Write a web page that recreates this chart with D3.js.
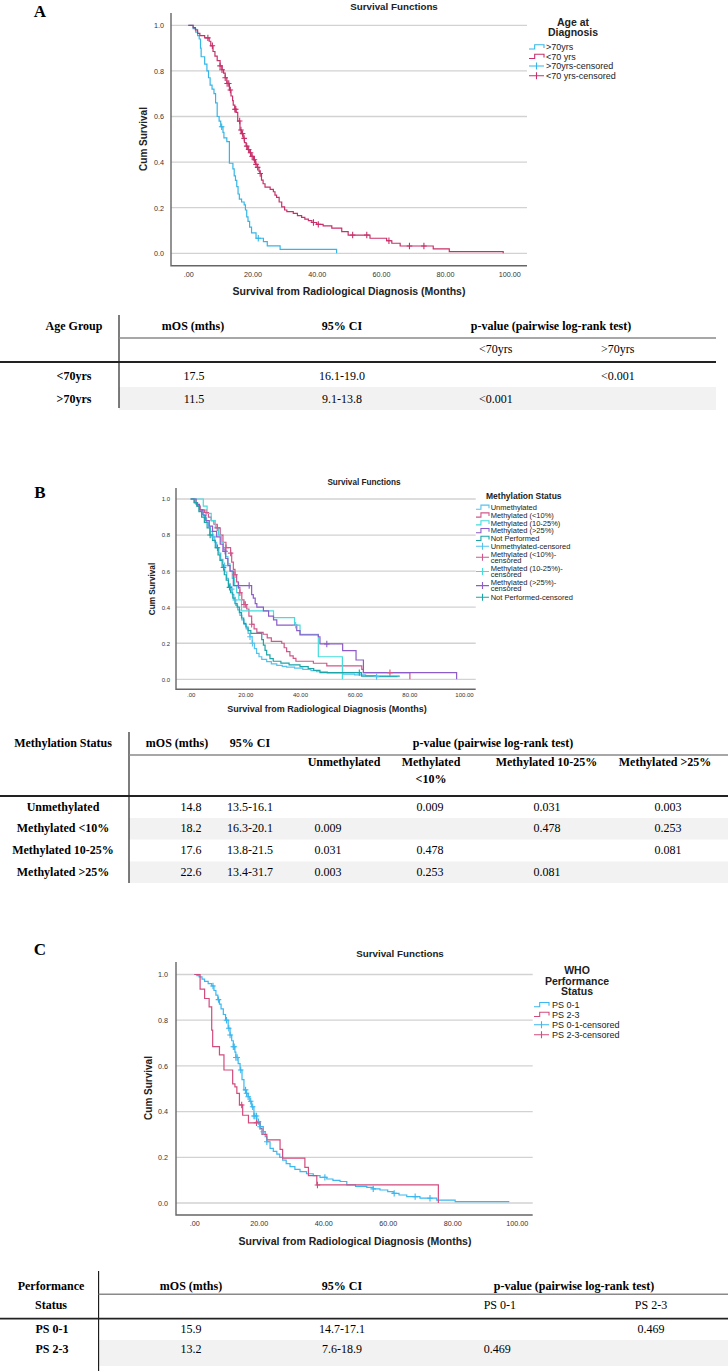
<!DOCTYPE html>
<html><head><meta charset="utf-8">
<script src="https://cdn.jsdelivr.net/npm/d3@7"></script>
<style>body{margin:0;background:#fff}</style>
</head><body><svg id="fig" width="728" height="1371"></svg>
<script>
// ---------------- DATA ----------------
const xTickValues = [0, 20, 40, 60, 80, 100];
const xTickLabels = [".00", "20.00", "40.00", "60.00", "80.00", "100.00"];
const yTickValues = [0, 0.2, 0.4, 0.6, 0.8, 1.0];
const yTickLabels = ["0.0", "0.2", "0.4", "0.6", "0.8", "1.0"];

// Panel A: Age at diagnosis  [months, cumulative survival]
const ageOver70 = [[0,1],[1.5,0.985],[2.3,0.97],[2.9,0.955],[3.4,0.94],[3.8,0.9],[4.0,0.862],[5.1,0.83],[5.8,0.80],[6.3,0.77],[6.8,0.738],[7.4,0.72],[8.0,0.70],[8.5,0.66],[9.0,0.6],[9.6,0.58],[10.1,0.555],[10.8,0.53],[11.1,0.506],[12.0,0.49],[12.8,0.395],[13.9,0.37],[14.3,0.34],[14.7,0.32],[15.1,0.292],[15.5,0.26],[15.9,0.238],[16.6,0.225],[17.4,0.212],[17.8,0.19],[18.2,0.16],[18.6,0.14],[19.1,0.115],[19.7,0.09],[21.1,0.066],[23.4,0.051],[24.6,0.033],[28.6,0.0175],[46.2,0]];
const ageUnder70 = [[0,1],[1.5,0.99],[2.2,0.98],[2.9,0.965],[3.6,0.955],[5.1,0.945],[6.5,0.93],[7.0,0.91],[7.7,0.885],[8.3,0.865],[9.0,0.845],[9.9,0.822],[10.5,0.805],[11.0,0.79],[11.5,0.77],[12.0,0.745],[12.8,0.716],[13.3,0.69],[13.8,0.67],[14.0,0.65],[14.5,0.632],[14.9,0.618],[15.4,0.58],[16.1,0.541],[16.6,0.525],[17.1,0.504],[17.5,0.485],[18.0,0.47],[18.5,0.455],[19.0,0.441],[19.6,0.425],[20.3,0.41],[20.9,0.39],[21.5,0.377],[22.0,0.36],[22.3,0.35],[22.8,0.321],[23.3,0.305],[23.9,0.29],[25.5,0.28],[26.5,0.27],[27.0,0.255],[27.5,0.245],[28.3,0.225],[29.1,0.204],[30.0,0.19],[30.7,0.183],[32.7,0.175],[34.0,0.165],[35.3,0.158],[36.3,0.15],[37.4,0.143],[38.5,0.135],[40.0,0.127],[42.0,0.12],[44.7,0.11],[47.8,0.095],[49.8,0.08],[56.6,0.066],[61.8,0.055],[63.4,0.044],[66.0,0.032],[76.3,0.019],[81.3,0.007],[98.1,0.007],[98.1,0]];
const ageOver70Censored = [10.4, 21.8];
const ageUnder70Censored = [6.1,7.5,9.9,10.5,11.5,12.1,12.6,13.1,14.5,14.8,16.0,16.4,16.9,17.4,18.2,18.8,19.4,19.9,20.6,21.1,21.6,22.4,39.0,40.5,51.2,55.6,62.5,68.9,73.4];
const ageLegendLabels = [">70yrs", "<70 yrs", ">70yrs-censored", "<70 yrs-censored"];

// Panel B: Methylation status
const methUnmethylated = [[0,1],[1.5,0.98],[2.5,0.96],[3.3,0.94],[4.2,0.915],[5.0,0.895],[5.8,0.87],[6.5,0.845],[7.2,0.82],[8.0,0.79],[8.8,0.76],[9.5,0.73],[10.3,0.70],[11.0,0.665],[11.8,0.63],[12.5,0.595],[13.2,0.56],[13.8,0.53],[14.5,0.50],[15.2,0.47],[15.8,0.44],[16.5,0.41],[17.2,0.385],[18.0,0.355],[18.7,0.33],[19.5,0.305],[20.3,0.28],[21.0,0.255],[21.7,0.236],[22.5,0.2],[23.3,0.17],[24.1,0.144],[25.0,0.125],[26.0,0.11],[27.8,0.098],[29.5,0.085],[31.5,0.077],[33.5,0.072],[35.1,0.068],[38,0.062],[41,0.055],[44,0.048],[46.1,0.042],[50,0.036],[55.7,0.029],[60,0.024],[64,0.02],[68,0.015],[75.6,0.015]];
const methUnder10 = [[0,1],[1.5,0.98],[2.5,0.96],[3.5,0.94],[5.0,0.925],[6.5,0.90],[7.5,0.88],[8.5,0.86],[9.7,0.84],[10.8,0.80],[11.8,0.76],[12.9,0.73],[14.6,0.70],[15.0,0.65],[15.6,0.61],[16.2,0.58],[16.8,0.54],[17.4,0.51],[18.0,0.48],[18.7,0.44],[19.5,0.415],[20.5,0.39],[21.3,0.35],[22.3,0.305],[23.2,0.28],[24.2,0.26],[26.5,0.25],[28.0,0.23],[29.5,0.21],[33.3,0.20],[34.2,0.175],[35.1,0.153],[36.3,0.13],[37.5,0.116],[38.5,0.10],[44.9,0.089],[49.8,0.074],[62.6,0.055],[63.2,0.037],[80.2,0.037],[80.2,0]];
const meth10to25 = [[0,1],[4.6,0.96],[6.0,0.92],[7.5,0.88],[9.0,0.84],[10.2,0.80],[11.2,0.76],[12.0,0.72],[12.8,0.68],[13.6,0.64],[14.4,0.60],[15.2,0.56],[16.0,0.52],[16.8,0.48],[17.6,0.44],[18.6,0.38],[30.3,0.342],[38.0,0.30],[40.0,0.25],[46.7,0.125],[55.5,0]];
const methOver25 = [[0,1],[2.0,0.97],[3.2,0.94],[4.5,0.91],[5.5,0.88],[6.8,0.85],[8.0,0.82],[9.5,0.79],[10.8,0.75],[11.8,0.71],[12.8,0.67],[13.6,0.63],[14.4,0.60],[15.6,0.52],[22.3,0.47],[22.9,0.45],[23.6,0.42],[24.2,0.40],[26.6,0.38],[28.5,0.35],[30.3,0.33],[31.5,0.30],[38.8,0.27],[40.0,0.246],[46.7,0.236],[47.3,0.196],[55.6,0.159],[60.5,0.107],[63.2,0.037],[97.3,0.037],[97.3,0]];
const methNotPerformed = [[0,1],[1.2,0.98],[2.2,0.96],[3.0,0.93],[4.0,0.90],[5.0,0.87],[6.0,0.84],[7.0,0.80],[8.0,0.77],[9.0,0.73],[10.0,0.69],[10.7,0.66],[11.5,0.62],[12.3,0.58],[13.0,0.55],[13.8,0.51],[14.6,0.48],[15.4,0.45],[16.2,0.42],[17.0,0.40],[17.8,0.37],[18.6,0.34],[19.4,0.31],[20.2,0.29],[21.0,0.27],[22.0,0.255],[26.0,0.22],[26.6,0.19],[27.2,0.16],[27.8,0.135],[29.0,0.115],[30.2,0.1],[33.0,0.09],[36.0,0.08],[40.0,0.07],[43.0,0.06],[45.0,0.05],[47.3,0.037],[62.5,0.018],[76.5,0.018]];
const methUnmethylatedCensored = [8.2,12.4,15.0,16.3,21.7,22.6,68.0];
const methUnder10Censored = [5.6,9.7,12.9,14.6,16.2,18.0,19.5,20.0,22.3,72.9];
const meth10to25Censored = [38.4];
const methOver25Censored = [12.6,17.5,21.4,49.8];
const methNotPerformedCensored = [7.1,9.8,12.0,14.2,61.7];
const methLegendLabels = [["Unmethylated"],["Methylated (<10%)"],["Methylated (10-25%)"],["Methylated (>25%)"],["Not Performed"],["Unmethylated-censored"],["Methylated (<10%)-","censored"],["Methylated (10-25%)-","censored"],["Methylated (>25%)-","censored"],["Not Performed-censored"]];

// Panel C: WHO performance status
const psGood = [[0,1],[0.8,0.995],[1.5,0.99],[2.4,0.98],[3.2,0.97],[4.3,0.96],[5.4,0.95],[6.1,0.93],[6.7,0.91],[7.3,0.89],[7.8,0.87],[8.3,0.85],[9.0,0.825],[9.7,0.80],[10.5,0.765],[11.1,0.735],[11.6,0.71],[12.1,0.684],[12.6,0.66],[12.9,0.637],[13.6,0.61],[14.2,0.582],[14.8,0.54],[15.4,0.495],[16.0,0.48],[16.7,0.465],[17.2,0.445],[17.8,0.421],[18.5,0.381],[19.4,0.356],[20.4,0.334],[21.4,0.312],[22.0,0.29],[22.5,0.268],[23.5,0.239],[24.5,0.226],[25.6,0.214],[26.5,0.2],[27.4,0.188],[28.5,0.172],[29.7,0.159],[31.2,0.147],[32.8,0.137],[34.8,0.128],[36.9,0.12],[39,0.112],[41.1,0.105],[43,0.099],[45.2,0.094],[47.3,0.079],[50,0.073],[53.5,0.068],[55.5,0.062],[57.6,0.057],[60,0.05],[61.7,0.042],[63.5,0.035],[65.9,0.028],[70,0.021],[75.2,0.013],[80.9,0.006],[97.7,0.006]];
const psPoor = [[0,1],[1.8,0.936],[3.2,0.895],[4.6,0.858],[5.4,0.757],[5.7,0.684],[7.8,0.648],[9.2,0.582],[11.9,0.521],[12.6,0.508],[13.2,0.48],[14.0,0.429],[15.0,0.384],[16.8,0.351],[20.4,0.326],[21.0,0.30],[22.5,0.276],[26.6,0.235],[27.4,0.196],[34.3,0.156],[35.4,0.12],[38.0,0.079],[75.7,0.079],[75.7,0]];
const psGoodCensored = [5.8,7.5,10.0,10.7,11.1,12.1,12.4,12.9,13.3,14.4,15.9,16.2,16.7,17.5,18.1,18.5,18.8,19.3,19.9,20.4,21.4,22.5,40.5,55.5,62.0,68.5,73.1];
const psPoorCensored = [14.7,19.3,38.2];
const psLegendLabels = ["PS 0-1", "PS 2-3", "PS 0-1-censored", "PS 2-3-censored"];

// Tables
const tableAHeader = ["Age Group", "mOS (mths)", "95% CI", "p-value (pairwise log-rank test)"];
const tableASubHeader = ["<70yrs", ">70yrs"];
const tableAGroups = ["<70yrs", ">70yrs"];
const tableAmOS = ["17.5", "11.5"];
const tableACI = ["16.1-19.0", "9.1-13.8"];
const tableAP = [["", "<0.001"], ["<0.001", ""]];

const tableBHeader = ["Methylation Status", "mOS (mths)", "95% CI", "p-value (pairwise log-rank test)"];
const tableBSubHeader = [["Unmethylated"], ["Methylated", "<10%"], ["Methylated 10-25%"], ["Methylated >25%"]];
const tableBGroups = ["Unmethylated", "Methylated <10%", "Methylated 10-25%", "Methylated >25%"];
const tableBmOS = ["14.8", "18.2", "17.6", "22.6"];
const tableBCI = ["13.5-16.1", "16.3-20.1", "13.8-21.5", "13.4-31.7"];
const tableBP = [["", "0.009", "0.031", "0.003"], ["0.009", "", "0.478", "0.253"], ["0.031", "0.478", "", "0.081"], ["0.003", "0.253", "0.081", ""]];

const tableCHeader = [["Performance", "Status"], "mOS (mths)", "95% CI", "p-value (pairwise log-rank test)"];
const tableCSubHeader = ["PS 0-1", "PS 2-3"];
const tableCGroups = ["PS 0-1", "PS 2-3"];
const tableCmOS = ["15.9", "13.2"];
const tableCCI = ["14.7-17.1", "7.6-18.9"];
const tableCP = [["", "0.469"], ["0.469", ""]];

// ---------------- DRAW ----------------
const SANS = "'Liberation Sans', Arial, sans-serif";
const SERIF = "'Liberation Serif', 'Times New Roman', serif";
const svg = d3.select("#fig");
svg.append("rect").attr("width", 728).attr("height", 1371).attr("fill", "#fff");

function txt(g, x, y, s, o = {}) {
  return g.append("text").attr("x", x).attr("y", y).text(s)
    .attr("font-family", o.family || SANS).attr("font-size", o.size || 10)
    .attr("font-weight", o.bold ? "bold" : "normal")
    .attr("text-anchor", o.anchor || "start").attr("fill", o.fill || "#000");
}
function stepValue(curve, t) {
  let s = curve[0][1];
  for (const p of curve) { if (p[0] <= t) s = p[1]; else break; }
  return s;
}

function drawPanel(cfg, series, legend) {
  const g = svg.append("g");
  const x = d3.scaleLinear().domain([0, 100]).range([cfg.x0, cfg.x100]);
  const y = d3.scaleLinear().domain([0, 1]).range([cfg.y0, cfg.y1]);
  g.append("g").selectAll("line").data(yTickValues).join("line")
    .attr("x1", cfg.gridL).attr("x2", cfg.gridR)
    .attr("y1", d => y(d)).attr("y2", d => y(d))
    .attr("stroke", "#d2d2d2").attr("stroke-width", 1.3);
  const ay = g.append("g").attr("transform", `translate(${cfg.gridL},0)`)
    .call(d3.axisLeft(y).tickValues(yTickValues).tickFormat((d, i) => yTickLabels[i]).tickSize(0).tickPadding(cfg.gridL - cfg.yLabelRight));
  ay.select(".domain").remove();
  ay.selectAll("text").attr("font-family", SANS).attr("font-size", cfg.tickFont).attr("fill", "#333");
  const padX = cfg.xLabelBase - cfg.axisBottom - 0.71 * cfg.tickFont;
  const ax = g.append("g").attr("transform", `translate(0,${cfg.axisBottom})`)
    .call(d3.axisBottom(x).tickValues(xTickValues).tickFormat((d, i) => xTickLabels[i]).tickSize(0).tickPadding(padX));
  ax.select(".domain").remove();
  ax.selectAll("text").attr("font-family", SANS).attr("font-size", cfg.tickFont).attr("fill", "#333");
  g.append("path")
    .attr("d", `M${cfg.gridL},${cfg.axisTop}V${cfg.axisBottom}H${cfg.gridR}`)
    .attr("fill", "none").attr("stroke", "#666").attr("stroke-width", 1.4);
  txt(g, cfg.titleX, cfg.titleY, "Survival Functions", { size: cfg.titleFont, bold: true, anchor: "middle", fill: "#222" });
  txt(g, cfg.axisTitleX, cfg.axisTitleY, "Survival from Radiological Diagnosis (Months)", { size: cfg.axisTitleFont, bold: true, anchor: "middle", fill: "#222" });
  g.append("text").attr("transform", `translate(${cfg.cumX},${cfg.cumY}) rotate(-90)`)
    .attr("text-anchor", "middle").attr("font-family", SANS).attr("font-weight", "bold")
    .attr("font-size", cfg.cumFont).attr("fill", "#222").text("Cum Survival");
  const line = d3.line().x(d => x(d[0])).y(d => y(d[1])).curve(d3.curveStepAfter);
  series.forEach(s => {
    g.append("path").datum(s.data).attr("d", line)
      .attr("fill", "none").attr("stroke", s.color).attr("stroke-width", 1.2);
  });
  series.forEach(s => {
    g.append("g").selectAll("path").data(s.cens).join("path")
      .attr("d", t => { const px = x(t), py = y(stepValue(s.data, t)); return `M${px - 2.8},${py}H${px + 2.8}M${px},${py - 3.2}V${py + 3.2}`; })
      .attr("stroke", s.color).attr("stroke-width", 1.1).attr("fill", "none");
  });
  legend.title.forEach((tt, i) => txt(g, legend.titleX, legend.titleY[i], tt, { size: legend.titleFont, bold: true, anchor: legend.titleAnchor || "middle", fill: "#222" }));
  legend.items.forEach((it, i) => {
    const cy = legend.itemY[i], sx = legend.symX, w = legend.symW;
    if (it.type === "step") {
      g.append("path").attr("d", `M${sx},${cy + 2}H${sx + w * 0.38}V${cy - 2.2}H${sx + w}V${cy + 1}`)
        .attr("fill", "none").attr("stroke", it.color).attr("stroke-width", 1.1);
    } else {
      g.append("path").attr("d", `M${sx},${cy}H${sx + w}M${sx + w / 2},${cy - 3.5}V${cy + 3.5}`)
        .attr("fill", "none").attr("stroke", it.color).attr("stroke-width", 1.1);
    }
    const lines = it.label;
    const gap = legend.lineGap || 6.5;
    lines.forEach((l, j) => {
      const by = cy + 0.35 * legend.font + (j - (lines.length - 1) / 2) * gap;
      txt(g, legend.textX, by, l, { size: legend.font, fill: "#222" });
    });
  });
}

txt(svg, 40, 17, "A", { family: SERIF, size: 17, bold: true, anchor: "middle" });
txt(svg, 40, 498, "B", { family: SERIF, size: 17, bold: true, anchor: "middle" });
txt(svg, 40, 955, "C", { family: SERIF, size: 17, bold: true, anchor: "middle" });

const colA = { over: "#35b6e6", under: "#c7306a" };
drawPanel({ x0: 188.3, x100: 509.3, y0: 253.3, y1: 25.3, gridL: 171, gridR: 527, axisTop: 13, axisBottom: 265.7,
  yLabelRight: 164, xLabelBase: 277, tickFont: 7.2, titleX: 394, titleY: 9.5, titleFont: 9.8,
  axisTitleX: 349, axisTitleY: 295, axisTitleFont: 10.5, cumX: 146.5, cumY: 139, cumFont: 10 },
  [{ data: ageOver70, cens: ageOver70Censored, color: colA.over },
   { data: ageUnder70, cens: ageUnder70Censored, color: colA.under }],
  { title: ["Age at", "Diagnosis"], titleX: 573, titleY: [26, 36], titleFont: 10.5,
    items: [{ label: [ageLegendLabels[0]], color: colA.over, type: "step" }, { label: [ageLegendLabels[1]], color: colA.under, type: "step" },
            { label: [ageLegendLabels[2]], color: colA.over, type: "cens" }, { label: [ageLegendLabels[3]], color: colA.under, type: "cens" }],
    itemY: [47, 56.5, 66, 75.7], symX: 529, symW: 15, textX: 546, font: 9 });

const colB = ["#55c2ee", "#d0588a", "#45dcdc", "#8d5cc8", "#1ba5a8"];
const methData = [methUnmethylated, methUnder10, meth10to25, methOver25, methNotPerformed];
const methCens = [methUnmethylatedCensored, methUnder10Censored, meth10to25Censored, methOver25Censored, methNotPerformedCensored];
drawPanel({ x0: 190.7, x100: 464, y0: 679.3, y1: 499, gridL: 176, gridR: 475.7, axisTop: 488, axisBottom: 689.3,
  yLabelRight: 170, xLabelBase: 697.5, tickFont: 6, titleX: 364, titleY: 485, titleFont: 8.2,
  axisTitleX: 327, axisTitleY: 712, axisTitleFont: 9, cumX: 155, cumY: 589, cumFont: 8.2 },
  methData.map((d, i) => ({ data: d, cens: methCens[i], color: colB[i] })),
  { title: ["Methylation Status"], titleX: 486, titleAnchor: "start", titleY: [498.5], titleFont: 8.5,
    items: methLegendLabels.map((l, i) => ({ label: l, color: colB[i % 5], type: i < 5 ? "step" : "cens" })),
    itemY: [507.3, 515.1, 522.9, 530.7, 538.5, 546.3, 557.3, 571.5, 585.6, 597.3], symX: 476, symW: 13, textX: 490.7, font: 7.5, lineGap: 6.3 });

const colC = { good: "#3ab8ef", poor: "#d24c7e" };
drawPanel({ x0: 194.3, x100: 516.7, y0: 1203, y1: 974.5, gridL: 176, gridR: 532.7, axisTop: 962, axisBottom: 1215,
  yLabelRight: 168, xLabelBase: 1226, tickFont: 7.2, titleX: 400, titleY: 957, titleFont: 9.8,
  axisTitleX: 355, axisTitleY: 1245, axisTitleFont: 10.5, cumX: 152, cumY: 1088, cumFont: 10 },
  [{ data: psGood, cens: psGoodCensored, color: colC.good },
   { data: psPoor, cens: psPoorCensored, color: colC.poor }],
  { title: ["WHO", "Performance", "Status"], titleX: 577, titleY: [974, 984.5, 995], titleFont: 10.5,
    items: [{ label: [psLegendLabels[0]], color: colC.good, type: "step" }, { label: [psLegendLabels[1]], color: colC.poor, type: "step" },
            { label: [psLegendLabels[2]], color: colC.good, type: "cens" }, { label: [psLegendLabels[3]], color: colC.poor, type: "cens" }],
    itemY: [1004.7, 1014.5, 1024.8, 1034.7], symX: 534, symW: 15, textX: 552, font: 9 });

// ---------------- TABLES ----------------
const TF = 12;
function hline(x1, x2, y, color, w) { svg.append("line").attr("x1", x1).attr("x2", x2).attr("y1", y).attr("y2", y).attr("stroke", color).attr("stroke-width", w); }
function vline(x, y1, y2) { svg.append("line").attr("x1", x).attr("x2", x).attr("y1", y1).attr("y2", y2).attr("stroke", "#111").attr("stroke-width", 1.1); }
function band(x1, x2, y1, y2) { svg.append("rect").attr("x", x1).attr("y", y1).attr("width", x2 - x1).attr("height", y2 - y1).attr("fill", "#f2f2f2"); }
function t(x, y, s, anchor, bold) { txt(svg, x, y, s, { family: SERIF, size: TF, bold: bold, anchor: anchor }); }

// Table A
band(119, 716, 387, 410);
vline(119, 315, 408);
hline(119, 716, 338, "#8a8a8a", 1.5);
hline(0, 716, 362, "#222", 1.8);
const taX = [74, 193, 342, 551];
tableAHeader.forEach((h, i) => t(taX[i], 330, h, "middle", true));
t(479, 353, tableASubHeader[0], "start");
t(601, 353, tableASubHeader[1], "start");
const taRowY = [380, 403];
const taPX = [479, 601];
tableAGroups.forEach((gname, r) => {
  t(74, taRowY[r], gname, "middle", true);
  t(194, taRowY[r], tableAmOS[r], "middle");
  t(342, taRowY[r], tableACI[r], "middle");
  tableAP[r].forEach((p, c) => { if (p) t(taPX[c], taRowY[r], p, "start"); });
});

// Table B
const tbRowY = [810.5, 832, 853.5, 875.5];
band(129, 728, tbRowY[1] - 14, tbRowY[1] + 7.5);
band(129, 728, tbRowY[3] - 14, tbRowY[3] + 7.5);
vline(129, 732, 883);
hline(129, 728, 755, "#8a8a8a", 1.5);
hline(0, 728, 796, "#222", 1.8);
const tbX = [63, 177, 250, 493];
tableBHeader.forEach((h, i) => t(tbX[i], 747, h, "middle", true));
const tbSubX = [344, 431, 546.5, 665];
tableBSubHeader.forEach((lines, i) => lines.forEach((l, j) => t(tbSubX[i], 765.7 + j * 17.5, l, "middle", true)));
const tbPX = [328, 430, 547, 668];
tableBGroups.forEach((gname, r) => {
  t(63, tbRowY[r], gname, "middle", true);
  t(191, tbRowY[r], tableBmOS[r], "middle");
  t(250, tbRowY[r], tableBCI[r], "middle");
  tableBP[r].forEach((p, c) => { if (p) t(tbPX[c], tbRowY[r], p, "middle"); });
});

// Table C
band(98.6, 728, 1340, 1366);
vline(98.6, 1271, 1371);
hline(98.6, 728, 1294.3, "#8a8a8a", 1.5);
hline(0, 728, 1318.7, "#222", 1.8);
const tcX = [51, 191, 342, 574];
t(tcX[0], 1290, tableCHeader[0][0], "middle", true);
t(tcX[0], 1308.5, tableCHeader[0][1], "middle", true);
[1, 2, 3].forEach(i => t(tcX[i], 1290, tableCHeader[i], "middle", true));
t(483.7, 1308.5, tableCSubHeader[0], "start");
t(651, 1308.5, tableCSubHeader[1], "middle");
const tcRowY = [1332.5, 1352.5];
tableCGroups.forEach((gname, r) => {
  t(52, tcRowY[r], gname, "middle", true);
  t(191, tcRowY[r], tableCmOS[r], "middle");
  t(342, tcRowY[r], tableCCI[r], "middle");
});
t(651, tcRowY[0], tableCP[0][1], "middle");
t(483.7, tcRowY[1], tableCP[1][0], "start");
</script></body></html>
